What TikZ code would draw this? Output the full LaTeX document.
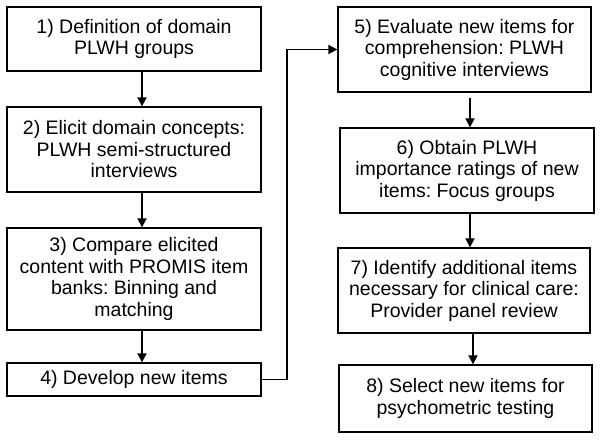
\documentclass[tikz,border=0pt]{standalone}
\usepackage{fontspec}
\setmainfont{Liberation Sans}
\usetikzlibrary{arrows.meta}
\frenchspacing

\begin{document}
\begin{tikzpicture}[x=1pt, y=-1pt,
        box/.style={draw, line width=1.3pt, minimum width=254pt, align=center,
                font=\fontsize{19.5}{21.5}\selectfont, inner sep=0pt},
        arr/.style={line width=1.8pt, -{Triangle[length=9pt, width=9pt]}}]
        \useasboundingbox (0, 0) rectangle (602, 441);
        % left column
        \node[box, minimum height=64pt] at (134, 39) (B1) {1) Definition of domain\\PLWH groups};
        \node[box, minimum height=85pt] at (134, 149.5) (B2) {2) Elicit domain concepts:\\PLWH semi-structured\\interviews};
        \node[box, minimum height=102pt] at (134, 279) (B3) {3) Compare elicited\\content with PROMIS item\\banks: Binning and\\matching};
        \node[box, minimum height=33pt] at (134, 379.5) (B4) {4) Develop new items};
        % right column
        \node[box, minimum width=253pt, minimum height=85pt] at (464.5, 49.5) (B5) {5) Evaluate new items for\\comprehension: PLWH\\cognitive interviews};
        \node[box, minimum height=85pt] at (467, 170.5) (B6) {6) Obtain PLWH\\importance ratings of new\\items: Focus groups};
        \node[box, minimum width=252pt, minimum height=85pt] at (464, 290.5) (B7) {7) Identify additional items\\necessary for clinical care:\\Provider panel review};
        \node[box, minimum width=253pt, minimum height=67pt] at (465.5, 398.5) (B8) {8) Select new items for\\psychometric testing};
        \draw[arr] ([xshift=8pt]B1.south) -- ([xshift=8pt]B2.north);
        \draw[arr] ([xshift=8pt]B2.south) -- ([xshift=8pt]B3.north);
        \draw[arr] ([xshift=8pt]B3.south) -- ([xshift=8pt]B4.north);
        \draw[arr] (B4.east) -- ++(25, 0) |- (B5.west);
        \draw[arr] ([xshift=5.5pt, yshift=-5pt]B5.south) -- ([xshift=3pt]B6.north);
        \draw[arr] ([xshift=3pt]B6.south) -- ([xshift=6pt]B7.north);
        \draw[arr] ([xshift=9pt]B7.south) -- ([xshift=7.5pt]B8.north);
        \end{tikzpicture}
\end{document}
